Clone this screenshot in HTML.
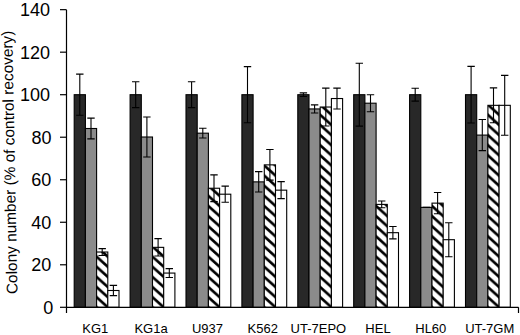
<!DOCTYPE html>
<html><head><meta charset="utf-8"><style>
html,body{margin:0;padding:0;background:#fff;}
body{width:520px;height:335px;overflow:hidden;}
svg{display:block;}
text{font-family:"Liberation Sans",sans-serif;fill:#000;}
.yt{font-size:18px;}
.xt{font-size:13px;}
.tt{font-size:15.4px;}
</style></head><body>
<svg width="520" height="335" viewBox="0 0 520 335">
<defs>
<pattern id="hatch0" patternUnits="userSpaceOnUse" x="96.60" y="307.30" width="11.2" height="10.13"><rect width="11.2" height="10.13" fill="#fff"/><path d="M-11.2 -10.13L22.4 20.26M-11.2 0L11.2 20.26M0 -10.13L22.4 10.13" stroke="#000" stroke-width="2.6"/></pattern><pattern id="hatch1" patternUnits="userSpaceOnUse" x="152.50" y="307.30" width="11.2" height="10.13"><rect width="11.2" height="10.13" fill="#fff"/><path d="M-11.2 -10.13L22.4 20.26M-11.2 0L11.2 20.26M0 -10.13L22.4 10.13" stroke="#000" stroke-width="2.6"/></pattern><pattern id="hatch2" patternUnits="userSpaceOnUse" x="208.40" y="307.30" width="11.2" height="10.13"><rect width="11.2" height="10.13" fill="#fff"/><path d="M-11.2 -10.13L22.4 20.26M-11.2 0L11.2 20.26M0 -10.13L22.4 10.13" stroke="#000" stroke-width="2.6"/></pattern><pattern id="hatch3" patternUnits="userSpaceOnUse" x="264.30" y="307.30" width="11.2" height="10.13"><rect width="11.2" height="10.13" fill="#fff"/><path d="M-11.2 -10.13L22.4 20.26M-11.2 0L11.2 20.26M0 -10.13L22.4 10.13" stroke="#000" stroke-width="2.6"/></pattern><pattern id="hatch4" patternUnits="userSpaceOnUse" x="320.20" y="307.30" width="11.2" height="10.13"><rect width="11.2" height="10.13" fill="#fff"/><path d="M-11.2 -10.13L22.4 20.26M-11.2 0L11.2 20.26M0 -10.13L22.4 10.13" stroke="#000" stroke-width="2.6"/></pattern><pattern id="hatch5" patternUnits="userSpaceOnUse" x="376.10" y="307.30" width="11.2" height="10.13"><rect width="11.2" height="10.13" fill="#fff"/><path d="M-11.2 -10.13L22.4 20.26M-11.2 0L11.2 20.26M0 -10.13L22.4 10.13" stroke="#000" stroke-width="2.6"/></pattern><pattern id="hatch6" patternUnits="userSpaceOnUse" x="432.00" y="307.30" width="11.2" height="10.13"><rect width="11.2" height="10.13" fill="#fff"/><path d="M-11.2 -10.13L22.4 20.26M-11.2 0L11.2 20.26M0 -10.13L22.4 10.13" stroke="#000" stroke-width="2.6"/></pattern><pattern id="hatch7" patternUnits="userSpaceOnUse" x="487.90" y="307.30" width="11.2" height="10.13"><rect width="11.2" height="10.13" fill="#fff"/><path d="M-11.2 -10.13L22.4 20.26M-11.2 0L11.2 20.26M0 -10.13L22.4 10.13" stroke="#000" stroke-width="2.6"/></pattern>
</defs>
<rect x="74.20" y="94.70" width="11.20" height="212.60" fill="#282828" stroke="#000" stroke-width="1.1"/>
<rect x="85.40" y="128.50" width="11.20" height="178.80" fill="#8b8b8b" stroke="#000" stroke-width="1.1"/>
<rect x="96.60" y="252.02" width="11.20" height="55.28" fill="url(#hatch0)" stroke="#000" stroke-width="1.1"/>
<rect x="107.80" y="290.50" width="11.20" height="16.80" fill="#ffffff" stroke="#000" stroke-width="1.1"/>
<rect x="130.10" y="94.70" width="11.20" height="212.60" fill="#282828" stroke="#000" stroke-width="1.1"/>
<rect x="141.30" y="137.01" width="11.20" height="170.29" fill="#8b8b8b" stroke="#000" stroke-width="1.1"/>
<rect x="152.50" y="247.35" width="11.20" height="59.95" fill="url(#hatch1)" stroke="#000" stroke-width="1.1"/>
<rect x="163.70" y="273.07" width="11.20" height="34.23" fill="#ffffff" stroke="#000" stroke-width="1.1"/>
<rect x="186.00" y="94.70" width="11.20" height="212.60" fill="#282828" stroke="#000" stroke-width="1.1"/>
<rect x="197.20" y="133.18" width="11.20" height="174.12" fill="#8b8b8b" stroke="#000" stroke-width="1.1"/>
<rect x="208.40" y="188.24" width="11.20" height="119.06" fill="url(#hatch2)" stroke="#000" stroke-width="1.1"/>
<rect x="219.60" y="194.20" width="11.20" height="113.10" fill="#ffffff" stroke="#000" stroke-width="1.1"/>
<rect x="241.90" y="94.70" width="11.20" height="212.60" fill="#282828" stroke="#000" stroke-width="1.1"/>
<rect x="253.10" y="181.87" width="11.20" height="125.43" fill="#8b8b8b" stroke="#000" stroke-width="1.1"/>
<rect x="264.30" y="164.86" width="11.20" height="142.44" fill="url(#hatch3)" stroke="#000" stroke-width="1.1"/>
<rect x="275.50" y="190.16" width="11.20" height="117.14" fill="#ffffff" stroke="#000" stroke-width="1.1"/>
<rect x="297.80" y="94.70" width="11.20" height="212.60" fill="#282828" stroke="#000" stroke-width="1.1"/>
<rect x="309.00" y="108.94" width="11.20" height="198.36" fill="#8b8b8b" stroke="#000" stroke-width="1.1"/>
<rect x="320.20" y="107.03" width="11.20" height="200.27" fill="url(#hatch4)" stroke="#000" stroke-width="1.1"/>
<rect x="331.40" y="98.53" width="11.20" height="208.77" fill="#ffffff" stroke="#000" stroke-width="1.1"/>
<rect x="353.70" y="94.70" width="11.20" height="212.60" fill="#282828" stroke="#000" stroke-width="1.1"/>
<rect x="364.90" y="103.20" width="11.20" height="204.10" fill="#8b8b8b" stroke="#000" stroke-width="1.1"/>
<rect x="376.10" y="204.40" width="11.20" height="102.90" fill="url(#hatch5)" stroke="#000" stroke-width="1.1"/>
<rect x="387.30" y="232.68" width="11.20" height="74.62" fill="#ffffff" stroke="#000" stroke-width="1.1"/>
<rect x="409.60" y="94.70" width="11.20" height="212.60" fill="#282828" stroke="#000" stroke-width="1.1"/>
<rect x="420.80" y="207.38" width="11.20" height="99.92" fill="#8b8b8b" stroke="#000" stroke-width="1.1"/>
<rect x="432.00" y="203.13" width="11.20" height="104.17" fill="url(#hatch6)" stroke="#000" stroke-width="1.1"/>
<rect x="443.20" y="239.69" width="11.20" height="67.61" fill="#ffffff" stroke="#000" stroke-width="1.1"/>
<rect x="465.50" y="94.70" width="11.20" height="212.60" fill="#282828" stroke="#000" stroke-width="1.1"/>
<rect x="476.70" y="135.09" width="11.20" height="172.21" fill="#8b8b8b" stroke="#000" stroke-width="1.1"/>
<rect x="487.90" y="105.33" width="11.20" height="201.97" fill="url(#hatch7)" stroke="#000" stroke-width="1.1"/>
<rect x="499.10" y="105.33" width="11.20" height="201.97" fill="#ffffff" stroke="#000" stroke-width="1.1"/>
<path d="M79.80 74.08V115.32M76.10 74.08H83.50M76.10 115.32H83.50" stroke="#000" stroke-width="1.1" fill="none"/>
<path d="M91.00 118.09V138.92M87.30 118.09H94.70M87.30 138.92H94.70" stroke="#000" stroke-width="1.1" fill="none"/>
<path d="M102.20 248.62V255.43M98.50 248.62H105.90M98.50 255.43H105.90" stroke="#000" stroke-width="1.1" fill="none"/>
<path d="M113.40 285.40V295.61M109.70 285.40H117.10M109.70 295.61H117.10" stroke="#000" stroke-width="1.1" fill="none"/>
<path d="M135.70 81.73V107.67M132.00 81.73H139.40M132.00 107.67H139.40" stroke="#000" stroke-width="1.1" fill="none"/>
<path d="M146.90 117.02V156.99M143.20 117.02H150.60M143.20 156.99H150.60" stroke="#000" stroke-width="1.1" fill="none"/>
<path d="M158.10 238.63V256.06M154.40 238.63H161.80M154.40 256.06H161.80" stroke="#000" stroke-width="1.1" fill="none"/>
<path d="M169.30 268.61V277.54M165.60 268.61H173.00M165.60 277.54H173.00" stroke="#000" stroke-width="1.1" fill="none"/>
<path d="M191.60 81.73V107.67M187.90 81.73H195.30M187.90 107.67H195.30" stroke="#000" stroke-width="1.1" fill="none"/>
<path d="M202.80 128.29V138.07M199.10 128.29H206.50M199.10 138.07H206.50" stroke="#000" stroke-width="1.1" fill="none"/>
<path d="M214.00 174.85V201.64M210.30 174.85H217.70M210.30 201.64H217.70" stroke="#000" stroke-width="1.1" fill="none"/>
<path d="M225.20 186.12V202.28M221.50 186.12H228.90M221.50 202.28H228.90" stroke="#000" stroke-width="1.1" fill="none"/>
<path d="M247.50 66.64V122.76M243.80 66.64H251.20M243.80 122.76H251.20" stroke="#000" stroke-width="1.1" fill="none"/>
<path d="M258.70 171.66V192.07M255.00 171.66H262.40M255.00 192.07H262.40" stroke="#000" stroke-width="1.1" fill="none"/>
<path d="M269.90 149.55V180.17M266.20 149.55H273.60M266.20 180.17H273.60" stroke="#000" stroke-width="1.1" fill="none"/>
<path d="M281.10 181.65V198.66M277.40 181.65H284.80M277.40 198.66H284.80" stroke="#000" stroke-width="1.1" fill="none"/>
<path d="M303.40 92.89V96.51M299.70 92.89H307.10M299.70 96.51H307.10" stroke="#000" stroke-width="1.1" fill="none"/>
<path d="M314.60 104.90V112.98M310.90 104.90H318.30M310.90 112.98H318.30" stroke="#000" stroke-width="1.1" fill="none"/>
<path d="M325.80 88.11V125.95M322.10 88.11H329.50M322.10 125.95H329.50" stroke="#000" stroke-width="1.1" fill="none"/>
<path d="M337.00 88.11V108.94M333.30 88.11H340.70M333.30 108.94H340.70" stroke="#000" stroke-width="1.1" fill="none"/>
<path d="M359.30 63.24V126.16M355.60 63.24H363.00M355.60 126.16H363.00" stroke="#000" stroke-width="1.1" fill="none"/>
<path d="M370.50 94.70V111.71M366.80 94.70H374.20M366.80 111.71H374.20" stroke="#000" stroke-width="1.1" fill="none"/>
<path d="M381.70 201.00V207.80M378.00 201.00H385.40M378.00 207.80H385.40" stroke="#000" stroke-width="1.1" fill="none"/>
<path d="M392.90 226.51V238.84M389.20 226.51H396.60M389.20 238.84H396.60" stroke="#000" stroke-width="1.1" fill="none"/>
<path d="M415.20 88.32V101.08M411.50 88.32H418.90M411.50 101.08H418.90" stroke="#000" stroke-width="1.1" fill="none"/>
<path d="M426.40 207.38V207.38M422.70 207.38H430.10M422.70 207.38H430.10" stroke="#000" stroke-width="1.1" fill="none"/>
<path d="M437.60 192.50V213.76M433.90 192.50H441.30M433.90 213.76H441.30" stroke="#000" stroke-width="1.1" fill="none"/>
<path d="M448.80 222.69V256.70M445.10 222.69H452.50M445.10 256.70H452.50" stroke="#000" stroke-width="1.1" fill="none"/>
<path d="M471.10 66.42V122.98M467.40 66.42H474.80M467.40 122.98H474.80" stroke="#000" stroke-width="1.1" fill="none"/>
<path d="M482.30 119.57V150.61M478.60 119.57H486.00M478.60 150.61H486.00" stroke="#000" stroke-width="1.1" fill="none"/>
<path d="M493.50 87.90V122.76M489.80 87.90H497.20M489.80 122.76H497.20" stroke="#000" stroke-width="1.1" fill="none"/>
<path d="M504.70 75.35V135.31M501.00 75.35H508.40M501.00 135.31H508.40" stroke="#000" stroke-width="1.1" fill="none"/>
<path d="M66.5 9.66V307.30H518.5" stroke="#000" stroke-width="1.2" fill="none"/>
<path d="M60 307.30H66.5" stroke="#000" stroke-width="1.2"/>
<path d="M60 264.78H66.5" stroke="#000" stroke-width="1.2"/>
<path d="M60 222.26H66.5" stroke="#000" stroke-width="1.2"/>
<path d="M60 179.74H66.5" stroke="#000" stroke-width="1.2"/>
<path d="M60 137.22H66.5" stroke="#000" stroke-width="1.2"/>
<path d="M60 94.70H66.5" stroke="#000" stroke-width="1.2"/>
<path d="M60 52.18H66.5" stroke="#000" stroke-width="1.2"/>
<path d="M60 9.66H66.5" stroke="#000" stroke-width="1.2"/>
<path d="M66.5 307.30V313M518.5 307.30V313" stroke="#000" stroke-width="1.2"/>
<text x="53.30" y="313.70" text-anchor="end" class="yt">0</text>
<text x="51.30" y="271.18" text-anchor="end" class="yt">20</text>
<text x="51.40" y="228.66" text-anchor="end" class="yt">40</text>
<text x="51.40" y="186.14" text-anchor="end" class="yt">60</text>
<text x="51.50" y="143.62" text-anchor="end" class="yt">80</text>
<text x="50.10" y="101.10" text-anchor="end" class="yt">100</text>
<text x="50.10" y="58.58" text-anchor="end" class="yt">120</text>
<text x="50.10" y="16.06" text-anchor="end" class="yt">140</text>
<text x="95.3" y="332.5" text-anchor="middle" class="xt">KG1</text>
<text x="151" y="332.5" text-anchor="middle" class="xt">KG1a</text>
<text x="207.5" y="332.5" text-anchor="middle" class="xt">U937</text>
<text x="262.75" y="332.5" text-anchor="middle" class="xt">K562</text>
<text x="318.4" y="332.5" text-anchor="middle" class="xt">UT-7EPO</text>
<text x="378" y="332.5" text-anchor="middle" class="xt">HEL</text>
<text x="430.8" y="332.5" text-anchor="middle" class="xt">HL60</text>
<text x="489.7" y="332.5" text-anchor="middle" class="xt">UT-7GM</text>
<text transform="translate(14.8 162.3) rotate(-91.14)" text-anchor="middle" class="tt">Colony number (% of control recovery)</text>
</svg>
</body></html>
